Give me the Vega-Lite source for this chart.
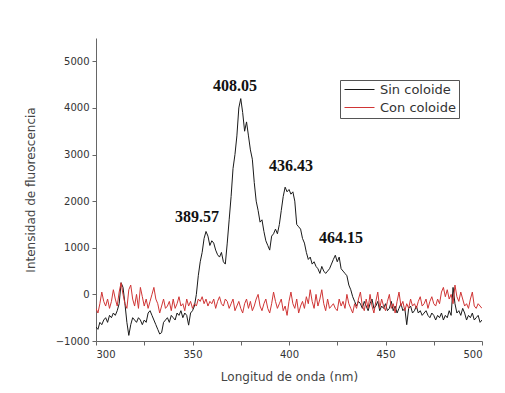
{
  "$schema": "https://vega.github.io/schema/vega-lite/v6.json",
  "width": 386,
  "height": 303,
  "autosize": "none",
  "padding": {"left": 96, "top": 38, "right": 23, "bottom": 52},
  "background": "white",
  "config": {
    "view": {"stroke": null},
    "axis": {
      "grid": false,
      "domainColor": "#666",
      "tickColor": "#666",
      "labelColor": "#333",
      "labelFont": "DejaVu Sans",
      "labelFontSize": 10,
      "titleFont": "DejaVu Sans",
      "titleFontSize": 12,
      "titleFontWeight": "normal",
      "titleColor": "#444",
      "tickSize": 4
    }
  },
  "datasets": {
    "spectra": [
      {"x":300,"Sin coloide":-700,"Con coloide":-300},{"x":301,"Sin coloide":-750,"Con coloide":-400},{"x":302,"Sin coloide":-600,"Con coloide":-200},{"x":303,"Sin coloide":-650,"Con coloide":50},{"x":304,"Sin coloide":-550,"Con coloide":-150},
      {"x":305,"Sin coloide":-500,"Con coloide":-250},{"x":306,"Sin coloide":-600,"Con coloide":-100},{"x":307,"Sin coloide":-450,"Con coloide":-300},{"x":308,"Sin coloide":-500,"Con coloide":-150},{"x":309,"Sin coloide":-400,"Con coloide":100},
      {"x":310,"Sin coloide":-450,"Con coloide":-100},{"x":311,"Sin coloide":-350,"Con coloide":-250},{"x":312,"Sin coloide":-200,"Con coloide":50},{"x":313,"Sin coloide":250,"Con coloide":250},{"x":314,"Sin coloide":150,"Con coloide":0},
      {"x":315,"Sin coloide":-200,"Con coloide":-200},{"x":316,"Sin coloide":-600,"Con coloide":-300},{"x":317,"Sin coloide":-880,"Con coloide":100},{"x":318,"Sin coloide":-650,"Con coloide":200},{"x":319,"Sin coloide":-500,"Con coloide":-100},
      {"x":320,"Sin coloide":-550,"Con coloide":-250},{"x":321,"Sin coloide":-600,"Con coloide":0},{"x":322,"Sin coloide":-500,"Con coloide":-300},{"x":323,"Sin coloide":-550,"Con coloide":150},{"x":324,"Sin coloide":-650,"Con coloide":-50},
      {"x":325,"Sin coloide":-550,"Con coloide":-250},{"x":326,"Sin coloide":-600,"Con coloide":-100},{"x":327,"Sin coloide":-400,"Con coloide":-300},{"x":328,"Sin coloide":-350,"Con coloide":-150},{"x":329,"Sin coloide":-450,"Con coloide":0},
      {"x":330,"Sin coloide":-550,"Con coloide":150},{"x":331,"Sin coloide":-650,"Con coloide":-100},{"x":332,"Sin coloide":-750,"Con coloide":-200},{"x":333,"Sin coloide":-850,"Con coloide":-400},{"x":334,"Sin coloide":-820,"Con coloide":-250},
      {"x":335,"Sin coloide":-600,"Con coloide":-100},{"x":336,"Sin coloide":-550,"Con coloide":-300},{"x":337,"Sin coloide":-500,"Con coloide":-250},{"x":338,"Sin coloide":-600,"Con coloide":-150},{"x":339,"Sin coloide":-450,"Con coloide":-350},
      {"x":340,"Sin coloide":-500,"Con coloide":-100},{"x":341,"Sin coloide":-550,"Con coloide":-300},{"x":342,"Sin coloide":-400,"Con coloide":-200},{"x":343,"Sin coloide":-450,"Con coloide":-50},{"x":344,"Sin coloide":-350,"Con coloide":-250},
      {"x":345,"Sin coloide":-500,"Con coloide":-200},{"x":346,"Sin coloide":-400,"Con coloide":-350},{"x":347,"Sin coloide":-450,"Con coloide":-100},{"x":348,"Sin coloide":-660,"Con coloide":-250},{"x":349,"Sin coloide":-400,"Con coloide":-150},
      {"x":350,"Sin coloide":-350,"Con coloide":-300},{"x":351,"Sin coloide":-250,"Con coloide":-200},{"x":352,"Sin coloide":0,"Con coloide":-250},{"x":353,"Sin coloide":400,"Con coloide":-100},{"x":354,"Sin coloide":700,"Con coloide":-150},
      {"x":355,"Sin coloide":900,"Con coloide":-50},{"x":356,"Sin coloide":1200,"Con coloide":-200},{"x":357,"Sin coloide":1350,"Con coloide":-100},{"x":358,"Sin coloide":1250,"Con coloide":-250},{"x":359,"Sin coloide":1050,"Con coloide":-150},
      {"x":360,"Sin coloide":1150,"Con coloide":-200},{"x":361,"Sin coloide":1100,"Con coloide":-100},{"x":362,"Sin coloide":950,"Con coloide":-300},{"x":363,"Sin coloide":850,"Con coloide":-150},{"x":364,"Sin coloide":800,"Con coloide":-50},
      {"x":365,"Sin coloide":900,"Con coloide":-200},{"x":366,"Sin coloide":700,"Con coloide":-250},{"x":367,"Sin coloide":650,"Con coloide":-100},{"x":368,"Sin coloide":1100,"Con coloide":-150},{"x":369,"Sin coloide":1600,"Con coloide":-300},
      {"x":370,"Sin coloide":2100,"Con coloide":-200},{"x":371,"Sin coloide":2700,"Con coloide":-100},{"x":372,"Sin coloide":3000,"Con coloide":-350},{"x":373,"Sin coloide":3400,"Con coloide":-250},{"x":374,"Sin coloide":4000,"Con coloide":-150},
      {"x":375,"Sin coloide":4200,"Con coloide":-300},{"x":376,"Sin coloide":3900,"Con coloide":-400},{"x":377,"Sin coloide":3500,"Con coloide":-200},{"x":378,"Sin coloide":3700,"Con coloide":-100},{"x":379,"Sin coloide":3400,"Con coloide":-300},
      {"x":380,"Sin coloide":3100,"Con coloide":-150},{"x":381,"Sin coloide":2900,"Con coloide":-350},{"x":382,"Sin coloide":2400,"Con coloide":-250},{"x":383,"Sin coloide":2000,"Con coloide":-100},{"x":384,"Sin coloide":1800,"Con coloide":0},
      {"x":385,"Sin coloide":1550,"Con coloide":-250},{"x":386,"Sin coloide":1600,"Con coloide":-350},{"x":387,"Sin coloide":1350,"Con coloide":-200},{"x":388,"Sin coloide":1150,"Con coloide":-100},{"x":389,"Sin coloide":1050,"Con coloide":-300},
      {"x":390,"Sin coloide":950,"Con coloide":-400},{"x":391,"Sin coloide":1250,"Con coloide":-200},{"x":392,"Sin coloide":1300,"Con coloide":50},{"x":393,"Sin coloide":1400,"Con coloide":-150},{"x":394,"Sin coloide":1300,"Con coloide":-300},
      {"x":395,"Sin coloide":1500,"Con coloide":-200},{"x":396,"Sin coloide":1800,"Con coloide":-100},{"x":397,"Sin coloide":2100,"Con coloide":-350},{"x":398,"Sin coloide":2300,"Con coloide":-250},{"x":399,"Sin coloide":2200,"Con coloide":-450},
      {"x":400,"Sin coloide":2250,"Con coloide":-150},{"x":401,"Sin coloide":2150,"Con coloide":50},{"x":402,"Sin coloide":2200,"Con coloide":-200},{"x":403,"Sin coloide":2000,"Con coloide":-300},{"x":404,"Sin coloide":1500,"Con coloide":-100},
      {"x":405,"Sin coloide":1450,"Con coloide":-400},{"x":406,"Sin coloide":1400,"Con coloide":-250},{"x":407,"Sin coloide":1200,"Con coloide":-150},{"x":408,"Sin coloide":1100,"Con coloide":-300},{"x":409,"Sin coloide":900,"Con coloide":-50},
      {"x":410,"Sin coloide":750,"Con coloide":-200},{"x":411,"Sin coloide":800,"Con coloide":100},{"x":412,"Sin coloide":650,"Con coloide":-150},{"x":413,"Sin coloide":700,"Con coloide":-300},{"x":414,"Sin coloide":600,"Con coloide":0},
      {"x":415,"Sin coloide":550,"Con coloide":-250},{"x":416,"Sin coloide":450,"Con coloide":-100},{"x":417,"Sin coloide":600,"Con coloide":100},{"x":418,"Sin coloide":500,"Con coloide":-200},{"x":419,"Sin coloide":450,"Con coloide":-350},
      {"x":420,"Sin coloide":500,"Con coloide":-100},{"x":421,"Sin coloide":550,"Con coloide":-300},{"x":422,"Sin coloide":650,"Con coloide":-250},{"x":423,"Sin coloide":750,"Con coloide":-200},{"x":424,"Sin coloide":840,"Con coloide":-300},
      {"x":425,"Sin coloide":700,"Con coloide":-350},{"x":426,"Sin coloide":800,"Con coloide":-100},{"x":427,"Sin coloide":550,"Con coloide":-250},{"x":428,"Sin coloide":500,"Con coloide":-150},{"x":429,"Sin coloide":450,"Con coloide":-300},
      {"x":430,"Sin coloide":400,"Con coloide":0},{"x":431,"Sin coloide":200,"Con coloide":-200},{"x":432,"Sin coloide":100,"Con coloide":-300},{"x":433,"Sin coloide":-50,"Con coloide":-400},{"x":434,"Sin coloide":-150,"Con coloide":-200},
      {"x":435,"Sin coloide":-250,"Con coloide":-300},{"x":436,"Sin coloide":-150,"Con coloide":-100},{"x":437,"Sin coloide":-200,"Con coloide":50},{"x":438,"Sin coloide":-300,"Con coloide":-250},{"x":439,"Sin coloide":-150,"Con coloide":-350},
      {"x":440,"Sin coloide":-250,"Con coloide":-100},{"x":441,"Sin coloide":-350,"Con coloide":-300},{"x":442,"Sin coloide":-200,"Con coloide":0},{"x":443,"Sin coloide":-100,"Con coloide":-250},{"x":444,"Sin coloide":-300,"Con coloide":-400},
      {"x":445,"Sin coloide":-250,"Con coloide":-150},{"x":446,"Sin coloide":-150,"Con coloide":50},{"x":447,"Sin coloide":-350,"Con coloide":-300},{"x":448,"Sin coloide":-250,"Con coloide":-100},{"x":449,"Sin coloide":-300,"Con coloide":-250},
      {"x":450,"Sin coloide":-200,"Con coloide":-350},{"x":451,"Sin coloide":-350,"Con coloide":-150},{"x":452,"Sin coloide":-300,"Con coloide":0},{"x":453,"Sin coloide":-150,"Con coloide":-300},{"x":454,"Sin coloide":-350,"Con coloide":-200},
      {"x":455,"Sin coloide":-250,"Con coloide":-400},{"x":456,"Sin coloide":-400,"Con coloide":-150},{"x":457,"Sin coloide":-300,"Con coloide":50},{"x":458,"Sin coloide":-200,"Con coloide":-250},{"x":459,"Sin coloide":-350,"Con coloide":-150},
      {"x":460,"Sin coloide":-300,"Con coloide":-350},{"x":461,"Sin coloide":-650,"Con coloide":-200},{"x":462,"Sin coloide":-300,"Con coloide":-300},{"x":463,"Sin coloide":-250,"Con coloide":-100},{"x":464,"Sin coloide":-400,"Con coloide":-250},
      {"x":465,"Sin coloide":-350,"Con coloide":-200},{"x":466,"Sin coloide":-250,"Con coloide":-300},{"x":467,"Sin coloide":-400,"Con coloide":-150},{"x":468,"Sin coloide":-350,"Con coloide":-50},{"x":469,"Sin coloide":-450,"Con coloide":-250},
      {"x":470,"Sin coloide":-400,"Con coloide":-200},{"x":471,"Sin coloide":-350,"Con coloide":-100},{"x":472,"Sin coloide":-450,"Con coloide":-300},{"x":473,"Sin coloide":-500,"Con coloide":-150},{"x":474,"Sin coloide":-400,"Con coloide":-50},
      {"x":475,"Sin coloide":-450,"Con coloide":-200},{"x":476,"Sin coloide":-550,"Con coloide":-250},{"x":477,"Sin coloide":-450,"Con coloide":-100},{"x":478,"Sin coloide":-500,"Con coloide":-200},{"x":479,"Sin coloide":-400,"Con coloide":50},
      {"x":480,"Sin coloide":-550,"Con coloide":150},{"x":481,"Sin coloide":-450,"Con coloide":-50},{"x":482,"Sin coloide":-500,"Con coloide":100},{"x":483,"Sin coloide":-350,"Con coloide":-100},{"x":484,"Sin coloide":-450,"Con coloide":0},
      {"x":485,"Sin coloide":150,"Con coloide":-200},{"x":486,"Sin coloide":-200,"Con coloide":200},{"x":487,"Sin coloide":-400,"Con coloide":-50},{"x":488,"Sin coloide":-350,"Con coloide":-150},{"x":489,"Sin coloide":-450,"Con coloide":50},
      {"x":490,"Sin coloide":-300,"Con coloide":-100},{"x":491,"Sin coloide":-400,"Con coloide":-250},{"x":492,"Sin coloide":-550,"Con coloide":-200},{"x":493,"Sin coloide":-450,"Con coloide":-300},{"x":494,"Sin coloide":-500,"Con coloide":-100},
      {"x":495,"Sin coloide":-400,"Con coloide":50},{"x":496,"Sin coloide":-550,"Con coloide":-250},{"x":497,"Sin coloide":-500,"Con coloide":-300},{"x":498,"Sin coloide":-450,"Con coloide":-200},{"x":499,"Sin coloide":-600,"Con coloide":-250},
      {"x":500,"Sin coloide":-550,"Con coloide":-300}
    ],
    "peaks": [
      {"x":352.3,"y":1650,"label":"389.57"},
      {"x":372,"y":4460,"label":"408.05"},
      {"x":401,"y":2750,"label":"436.43"},
      {"x":427,"y":1200,"label":"464.15"}
    ]
  },
  "layer": [
    {
      "data": {"name": "spectra"},
      "transform": [{"fold": ["Sin coloide", "Con coloide"], "as": ["serie", "y"]}],
      "mark": {"type": "line", "strokeWidth": 1, "clip": true},
      "encoding": {
        "x": {
          "field": "x", "type": "quantitative",
          "scale": {"domain": [300, 500], "nice": false, "zero": false},
          "axis": {
            "title": "Longitud de onda (nm)",
            "titlePadding": 12,
            "values": [300, 325, 350, 375, 400, 425, 450, 475, 500],
            "labelExpr": "datum.value % 50 == 0 ? datum.label : ''",
            "format": "d",
            "labelPadding": 4
          }
        },
        "y": {
          "field": "y", "type": "quantitative",
          "scale": {"domain": [-1000, 5500], "nice": false, "zero": false},
          "axis": {
            "title": "Intensidad de fluorescencia",
            "titlePadding": 18,
            "values": [-1000, -500, 0, 500, 1000, 1500, 2000, 2500, 3000, 3500, 4000, 4500, 5000],
            "labelExpr": "datum.value % 1000 == 0 ? datum.label : ''",
            "format": "d",
            "labelPadding": 3
          }
        },
        "color": {
          "field": "serie", "type": "nominal",
          "scale": {"domain": ["Sin coloide", "Con coloide"], "range": ["#1a1a1a", "#d03535"]},
          "legend": {
            "title": null,
            "orient": "none",
            "legendX": 244,
            "legendY": 42,
            "strokeColor": "#555",
            "fillColor": "white",
            "padding": 3,
            "symbolType": "M-3,0L3,0",
            "symbolSize": 100,
            "symbolStrokeWidth": 1,
            "symbolOffset": 10,
            "labelOffset": 14,
            "labelFont": "DejaVu Sans",
            "labelFontSize": 13,
            "labelColor": "#333",
            "rowPadding": 4
          }
        }
      }
    },
    {
      "data": {"name": "peaks"},
      "mark": {"type": "text", "font": "Liberation Serif", "fontWeight": "bold", "fontSize": 16, "color": "#111"},
      "encoding": {
        "x": {"field": "x", "type": "quantitative"},
        "y": {"field": "y", "type": "quantitative"},
        "text": {"field": "label"}
      }
    }
  ]
}
